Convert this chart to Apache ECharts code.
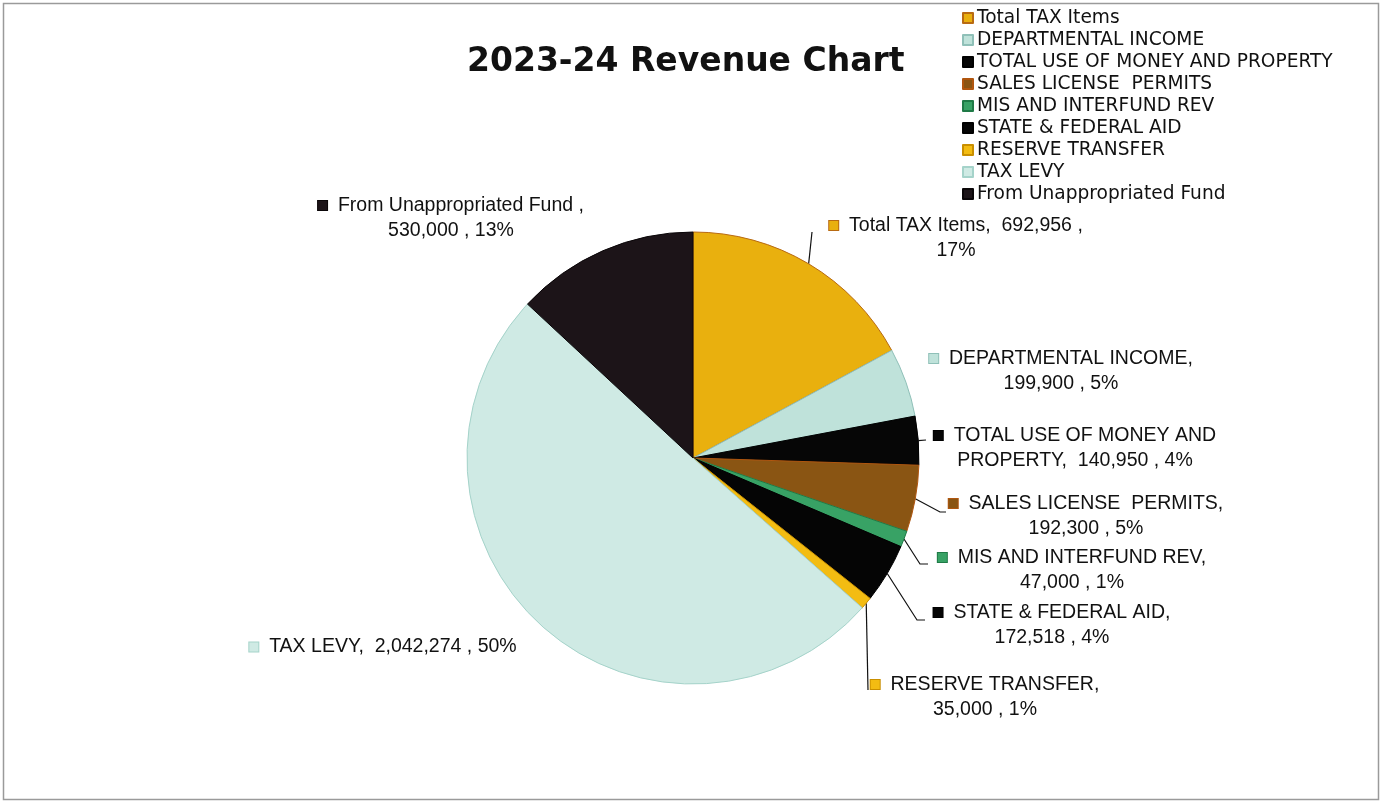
<!DOCTYPE html>
<html><head><meta charset="utf-8">
<script src="https://cdn.jsdelivr.net/npm/echarts@6/dist/echarts.min.js"></script>
<style>html,body{margin:0;padding:0;background:#fff}#c{width:1382px;height:803px}</style>
</head><body><div id="c"></div>
<script>
// ---- data ----
const categories = ['Total TAX Items','DEPARTMENTAL INCOME','TOTAL USE OF MONEY AND PROPERTY','SALES LICENSE  PERMITS','MIS AND INTERFUND REV','STATE & FEDERAL AID','RESERVE TRANSFER','TAX LEVY','From Unappropriated Fund'];
const values = [692956, 199900, 140950, 192300, 47000, 172518, 35000, 2042274, 530000];
const titleText = '2023-24 Revenue Chart';

// ---- styles / layout ----
const colors = ['#e9b00e','#bfe2da','#060606','#8a5513','#38a265','#050505','#f3bc12','#cfeae4','#1c1418'];
const borderColors = ['#b86a12','#8fc0b8','#000000','#b0560f','#1f7a46','#000000','#c98f00','#a5d3ca','#0a0608'];
const nameSep = [',',',',',',',',',',',',',',',',' ,'];
// label wrap: 'pct' = break before percent, 'name' = break after name, number = break inside name after N words, 'none'
const wrapMode = ['pct','name',5,'name','name','name','name','none','name'];
const labelCenters = [[956,238],[1061,371],[1075,448],[1086,516],[1072,570],[1052,625],[985,697],[383,647],[451,218]];
const lineEnds = [[[812,232],[812,232]], null, [[926,440],[926,440]], [[940,512],[946,512]], [[920,564],[928,564]], [[917,620],[925,620]], [[868,690],[868,690]], null, null];

const rich = {};
colors.forEach((c, i) => {
  rich['m' + i] = { width: 9, height: 9, backgroundColor: c, borderColor: borderColors[i], borderWidth: 1 };
});

function fmt(p) {
  const i = p.dataIndex;
  const v = Number(p.value).toLocaleString('en-US');
  const pc = Math.round(p.percent) + '%';
  const name = p.name, sep = nameSep[i];
  const mode = wrapMode[i];
  let l1, l2 = null;
  if (mode === 'pct') { l1 = name + sep + '  ' + v + ' ,'; l2 = pc; }
  else if (mode === 'name') { l1 = name + sep; l2 = v + ' , ' + pc; }
  else if (mode === 'none') { l1 = name + sep + '  ' + v + ' , ' + pc; }
  else {
    const w = name.split(' ');
    l1 = w.slice(0, mode).join(' ');
    l2 = w.slice(mode).join(' ') + sep + '  ' + v + ' , ' + pc;
  }
  return '{m' + i + '|}  ' + l1 + (l2 ? '\n' + l2 : '');
}

const chart = echarts.init(document.getElementById('c'), null, { renderer: 'canvas' });
chart.setOption({
  backgroundColor: '#fff',
  animation: false,
  graphic: [{
    type: 'rect', shape: { x: 3.5, y: 3.5, width: 1375, height: 796 },
    style: { fill: 'none', stroke: '#9a9a9a', lineWidth: 1.5 }, silent: true
  }],
  title: {
    text: titleText, left: 462, top: 41,
    textStyle: { fontFamily: 'DejaVu Sans', fontWeight: 'bold', fontSize: 33, color: '#111' }
  },
  legend: {
    orient: 'vertical', left: 957, top: 2, itemGap: 0,
    itemWidth: 10, itemHeight: 10, icon: 'rect',
    textStyle: { fontFamily: 'DejaVu Sans', fontSize: 18.6, color: '#111', lineHeight: 22, padding: [0, 0, 0, -1] },
    data: categories
  },
  series: [{
    type: 'pie',
    center: [693, 458], radius: 226,
    startAngle: 90, clockwise: true,
    percentPrecision: 0,
    avoidLabelOverlap: false,
    data: categories.map((n, i) => ({
      name: n, value: values[i],
      itemStyle: { color: colors[i], borderColor: borderColors[i], borderWidth: 1 },
      labelLine: { show: !!lineEnds[i] }
    })),
    label: {
      show: true, position: 'outside', formatter: fmt, rich: rich,
      fontFamily: 'Liberation Sans', fontSize: 19.5, color: '#111', lineHeight: 25, align: 'center'
    },
    labelLine: { show: true, length: 10, length2: 10, lineStyle: { color: '#111', width: 1.2 } },
    labelLayout: function (params) {
      const i = params.dataIndex;
      const c = labelCenters[i];
      const res = { x: c[0], y: c[1], align: 'center', verticalAlign: 'middle', hideOverlap: false, moveOverlap: null };
      if (lineEnds[i] && params.labelLinePoints) {
        const p0 = params.labelLinePoints[0];
        res.labelLinePoints = [[p0[0], p0[1]], lineEnds[i][0], lineEnds[i][1]];
      }
      return res;
    },
    emphasis: { disabled: true }
  }]
});
</script></body></html>
